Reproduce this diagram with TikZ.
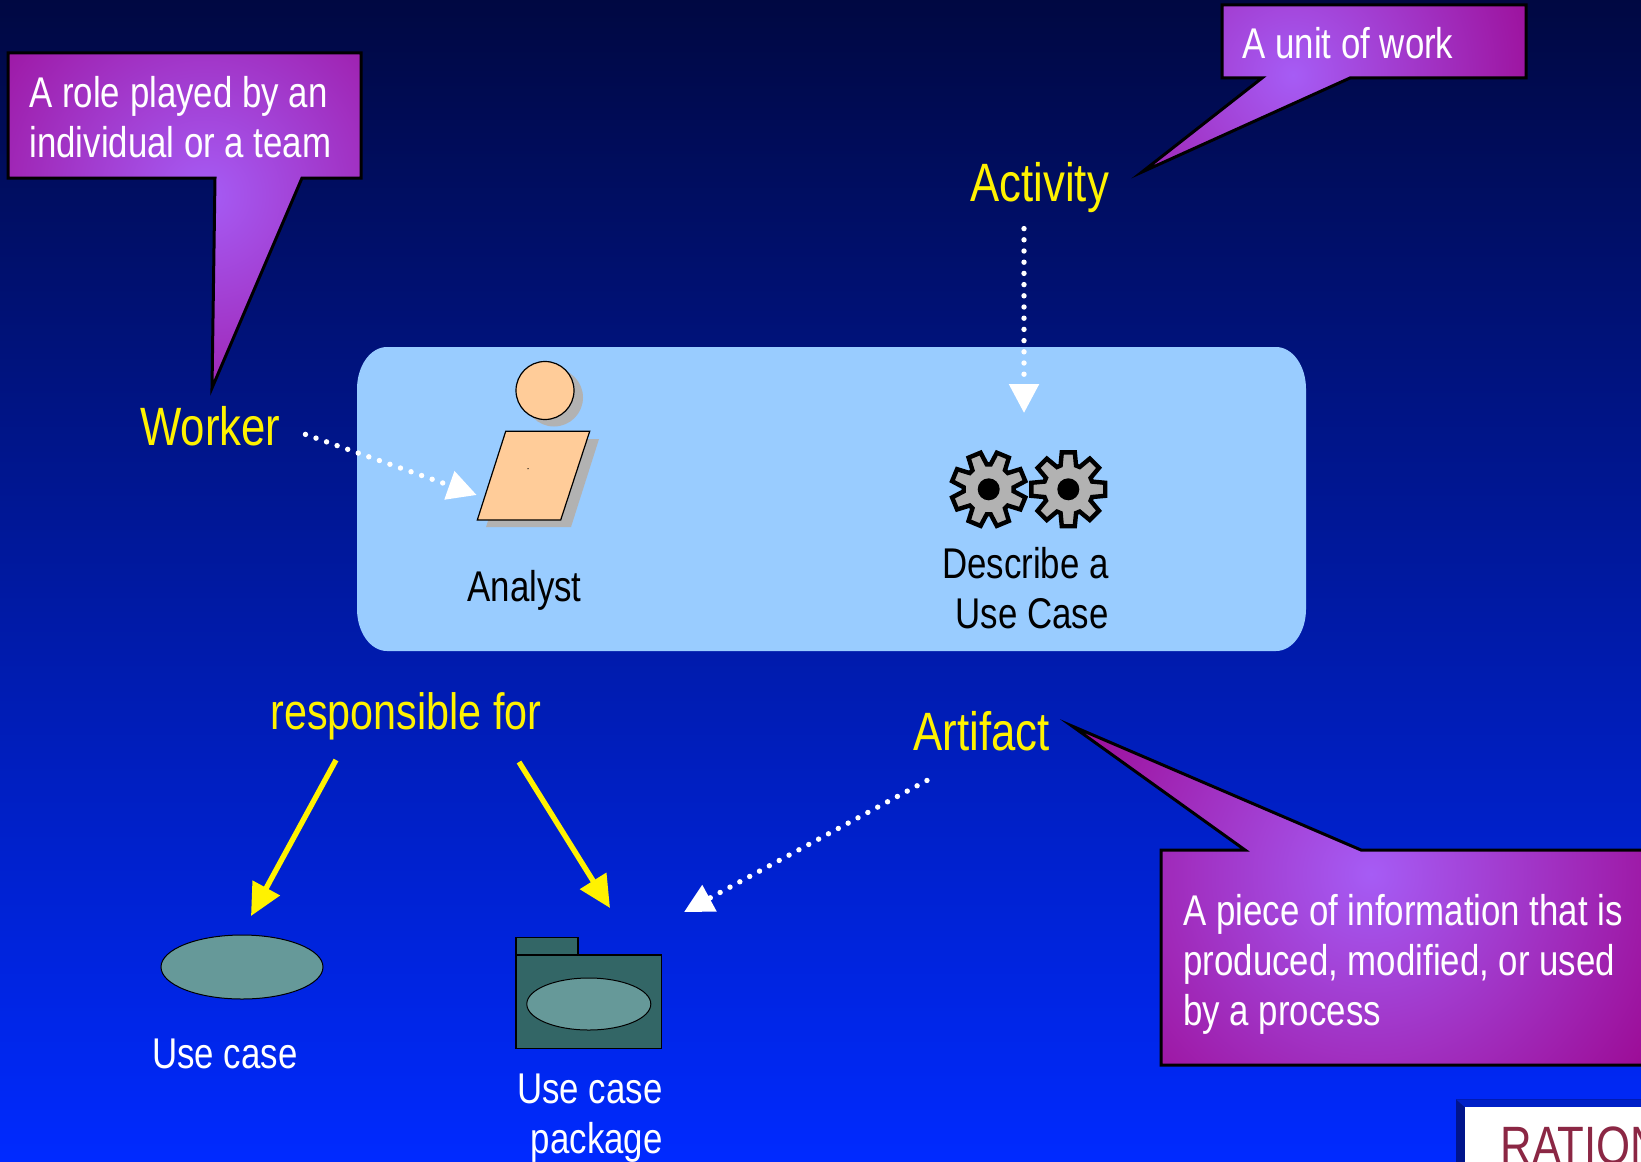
\documentclass[tikz,border=0pt]{standalone}
\usepackage{fontspec}
\setmainfont[FakeStretch=0.81]{Liberation Sans}
\usetikzlibrary{arrows.meta,shapes.geometric}
\definecolor{bgtop}{RGB}{0,8,66}
\definecolor{bgmid}{RGB}{0,30,190}
\definecolor{bgbottom}{RGB}{0,42,255}
\definecolor{calloutedge}{RGB}{156,10,148}
\definecolor{calloutglow}{RGB}{166,92,245}
\definecolor{panelblue}{RGB}{153,204,255}
\definecolor{skin}{RGB}{255,204,153}
\definecolor{shadowgray}{RGB}{178,178,178}
\definecolor{ucaseteal}{RGB}{102,153,153}
\definecolor{folderteal}{RGB}{51,102,102}
\definecolor{logored}{RGB}{139,39,68}
\definecolor{logoleft}{RGB}{0,20,140}
\definecolor{logotop}{RGB}{0,32,200}
\tikzset{
	txt/.style={inner sep=0pt,anchor=base west,font=\fontsize{21.5}{25}\selectfont},
	note/.style={txt,text=white,align=left},
	term/.style={inner sep=0pt,anchor=base west,text=yellow,font=\fontsize{27}{31}\selectfont},
	dotarrow/.style={white,line width=2.7pt,line cap=round,dash pattern=on 0pt off 5.6pt,-{Triangle[length=14.5pt,width=14.5pt]}},
	yellowarrow/.style={yellow,line width=2.7pt,-{Triangle[length=16pt,width=15pt]}},
	ucase/.style={shape=ellipse,draw=black,line width=0.5pt,fill=ucaseteal,inner sep=0pt}
}
\newcommand*\callout[3]{
	\fill[calloutedge] #1 -- cycle;
	\begin{scope}
	\clip #1 -- cycle;
	\shade[inner color=calloutglow,outer color=calloutedge] #2 circle[radius=#3];
	\end{scope}
	\draw[line width=1.5pt,line join=miter] #1 -- cycle;
}
\newcommand*\gear[2]{
	\begin{scope}[shift={#1}]
	\draw[fill=shadowgray,line width=2.2pt,line join=miter] (#2-18:25)
	\foreach \a in {0,45,...,315} {
		-- (#2+\a-18:25) -- (#2+\a-10:37.5) -- (#2+\a+10:37.5) -- (#2+\a+18:25)
	} -- cycle;
	\fill (0,0) circle[radius=11];
	\end{scope}
}

\begin{document}
\begin{tikzpicture}[x=0.5pt,y=-0.5pt]
\clip (0,0) rectangle (1641,1161);
\shade[top color=bgtop,middle color=bgmid,bottom color=bgbottom] (0,0) rectangle (1641,1161);

\fill[panelblue] (357,389) arc[start angle=180,end angle=270,x radius=30,y radius=42]
	-- (1276,347) arc[start angle=270,end angle=360,x radius=30,y radius=42]
	-- (1306,609) arc[start angle=0,end angle=90,x radius=30,y radius=42]
	-- (387,651) arc[start angle=90,end angle=180,x radius=30,y radius=42] -- cycle;

\fill[shadowgray] (554,397.5) circle[radius=29];
\fill[shadowgray] (515,439) -- (599,439) -- (571,527) -- (486,527) -- cycle;
\draw[fill=skin,line width=0.6pt] (545,390.5) circle[radius=29];
\draw[fill=skin,line width=0.6pt] (505.7,431.3) -- (589.7,431.3) -- (560.7,520) -- (477.3,520) -- cycle;
\fill (528,468.7) circle[radius=0.7];
\node[txt] (analyst) at (467,601) {Analyst};

\gear{(988.7,489.3)}{22.5}
\gear{(1068.3,489.3)}{0}
\node[txt,align=right,anchor=north east] (describe) at (1109,547) {Describe a\\Use Case};

\callout{(8,53) -- (361,53) -- (361,178) -- (302,178) -- (212,388) -- (215,178) -- (8,178)}{(205,195)}{300}
\node[note,anchor=north west] (rolenote) at (29,76) {A role played by an\\individual or a team};

\callout{(1222,5) -- (1526,5) -- (1526,78) -- (1350,78) -- (1142,172) -- (1262,78) -- (1222,78)}{(1293,75)}{270}
\node[note] (worknote) at (1242,59) {A unit of work};

\callout{(1161,850) -- (1245,850) -- (1072,726) -- (1361,850) -- (1650,850) -- (1650,1065) -- (1161,1065)}{(1371,874)}{340}
\node[note,anchor=north west] (piecenote) at (1183,894) {A piece of information that is\\produced, modified, or used\\by a process};

\node[term] (worker) at (140,445) {Worker};
\node[term] (activity) at (970,201) {Activity};
\node[term,font=\fontsize{25.5}{31}\selectfont] (responsible) at (270,729) {responsible for};
\node[term] (artifact) at (913,750) {Artifact};

\node[ucase,minimum width=81pt,minimum height=32pt] (usecase) at (242,967) {};
\node[txt,text=white] (usecasetxt) at (152,1068) {Use case};

\draw[fill=folderteal,line width=0.6pt] (516,937.7) rectangle (578,955);
\draw[fill=folderteal,line width=0.6pt] (516,955) rectangle (661.3,1048.3);
\node[ucase,minimum width=62pt,minimum height=26pt] (packagecase) at (588.8,1004) {};
\node[txt,text=white,align=right,anchor=north east] (packagetxt) at (663,1073) {Use case\\package};

\coordinate (analysttip) at (476.7,495);
\coordinate (activitytip) at (1024,413);
\coordinate (packagetip) at (684,912);
\coordinate (leftfrom) at (336,760);
\coordinate (lefttip) at (251,916);
\coordinate (rightfrom) at (519,762);
\coordinate (righttip) at (610,908);
\draw[dotarrow,shorten <=13pt] (worker.east) -- (analysttip);
\draw[dotarrow,shorten <=8pt] (activitytip |- activity.south) -- (activitytip);
\draw[dotarrow,shorten <=31pt] (artifact.south) -- (packagetip);
\draw[yellowarrow] (leftfrom) -- (lefttip);
\draw[yellowarrow] (rightfrom) -- (righttip);

\fill[logoleft] (1456,1099.3) rectangle (1650,1170);
\fill[logotop] (1456,1099.3) -- (1650,1099.3) -- (1650,1107.3) -- (1465,1107.3) -- cycle;
\fill[white] (1465,1107.3) rectangle (1650,1170);
\node[inner sep=0pt,anchor=base west,text=logored,font=\fontsize{27}{31}\selectfont] (logo) at (1500,1164) {RATION};
\end{tikzpicture}
\end{document}
